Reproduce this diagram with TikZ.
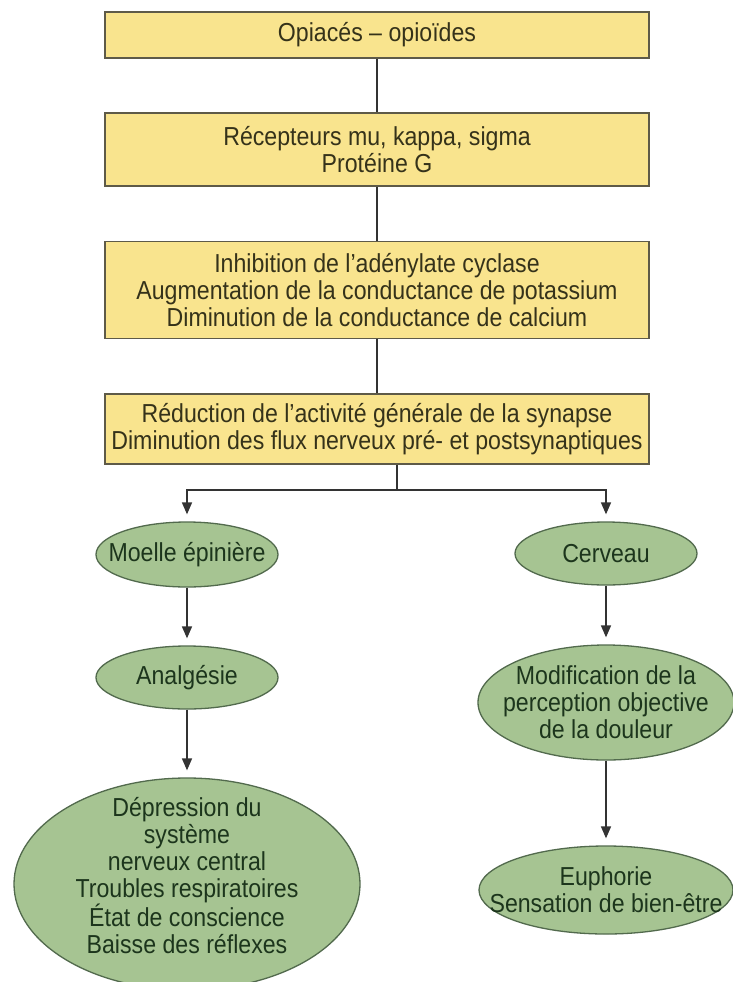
\documentclass[tikz,border=0pt]{standalone}
\usepackage{fontspec}
\setmainfont{Liberation Sans}[FakeStretch=0.89]
\usetikzlibrary{shapes.geometric,arrows.meta}
\definecolor{boxfill}{HTML}{F9E48E}
\definecolor{boxdraw}{HTML}{5E5A48}
\definecolor{boxtext}{HTML}{35321A}
\definecolor{ellfill}{HTML}{A6C492}
\definecolor{elldraw}{HTML}{526A4D}
\definecolor{elltext}{HTML}{1C351C}
\definecolor{linecol}{HTML}{333333}
\begin{document}
\begin{tikzpicture}[x=1pt,y=1pt,
  ybox/.style={draw=boxdraw, fill=boxfill, line width=1.7pt, minimum width=544pt,
    inner sep=0pt, align=center, text=boxtext, font=\fontsize{26}{27}\selectfont},
  gell/.style={ellipse, draw=elldraw, fill=ellfill, line width=1.3pt, inner sep=0pt},
  etxt/.style={align=center, text=elltext, inner sep=0pt, font=\fontsize{26}{27}\selectfont},
  conn/.style={draw=linecol, line width=1.6pt},
  arr/.style={conn, -{Triangle[length=12pt,width=10pt]}, shorten >=7pt}]
\useasboundingbox (0,0) rectangle (732,-982);
\fill[white] (0,0) rectangle (732,-982);
% boxes
\node[ybox, minimum height=46pt] (b1) at (377,-35) {Opiacés – opioïdes};
\node[ybox, minimum height=73pt] (b2) at (377,-149.5) {Récepteurs mu, kappa, sigma\\Protéine G};
\node[ybox, minimum height=97pt] (b3) at (377,-290) {Inhibition de l’adénylate cyclase\\Augmentation de la conductance de potassium\\Diminution de la conductance de calcium};
\node[ybox, minimum height=70pt] (b4) at (377,-429) {Réduction de l’activité générale de la synapse\\Diminution des flux nerveux pré- et postsynaptiques};
% ellipses
\node[gell, minimum width=182pt, minimum height=65pt] (moe) at (187,-554.5) {};
\node[etxt] at (moe) {Moelle épinière};
\node[gell, minimum width=182pt, minimum height=63pt] (ana) at (187,-677.5) {};
\node[etxt] at (ana) {Analgésie};
\node[gell, minimum width=346pt, minimum height=212pt] (big) at (187,-884) {};
\node[etxt] at ([yshift=8pt]big.center) {Dépression du\\système\\nerveux central\\Troubles respiratoires\\État de conscience\\Baisse des réflexes};
\node[gell, minimum width=182pt, minimum height=63pt] (cer) at (606,-553.5) {};
\node[etxt] at (cer) {Cerveau};
\node[gell, minimum width=256pt, minimum height=115pt] (mod) at (606,-702.5) {};
\node[etxt] at (mod) {Modification de la\\perception objective\\de la douleur};
\node[gell, minimum width=254pt, minimum height=88pt] (eup) at (606,-890) {};
\node[etxt] at (eup) {Euphorie\\Sensation de bien-être};
% connectors
\draw[conn] (b1) -- (b2);
\draw[conn] (b2) -- (b3);
\draw[conn] (b3) -- (b4);
\coordinate (split) at (397,-490);
\draw[conn] (split |- b4.south) -- (split);
\draw[arr] (split) -| (moe.north);
\draw[arr] (split) -| (cer.north);
\draw[arr] (moe) -- (ana);
\draw[arr] (ana) -- (big);
\draw[arr] (cer) -- (mod);
\draw[arr] (mod) -- (eup);
\end{tikzpicture}
\end{document}
